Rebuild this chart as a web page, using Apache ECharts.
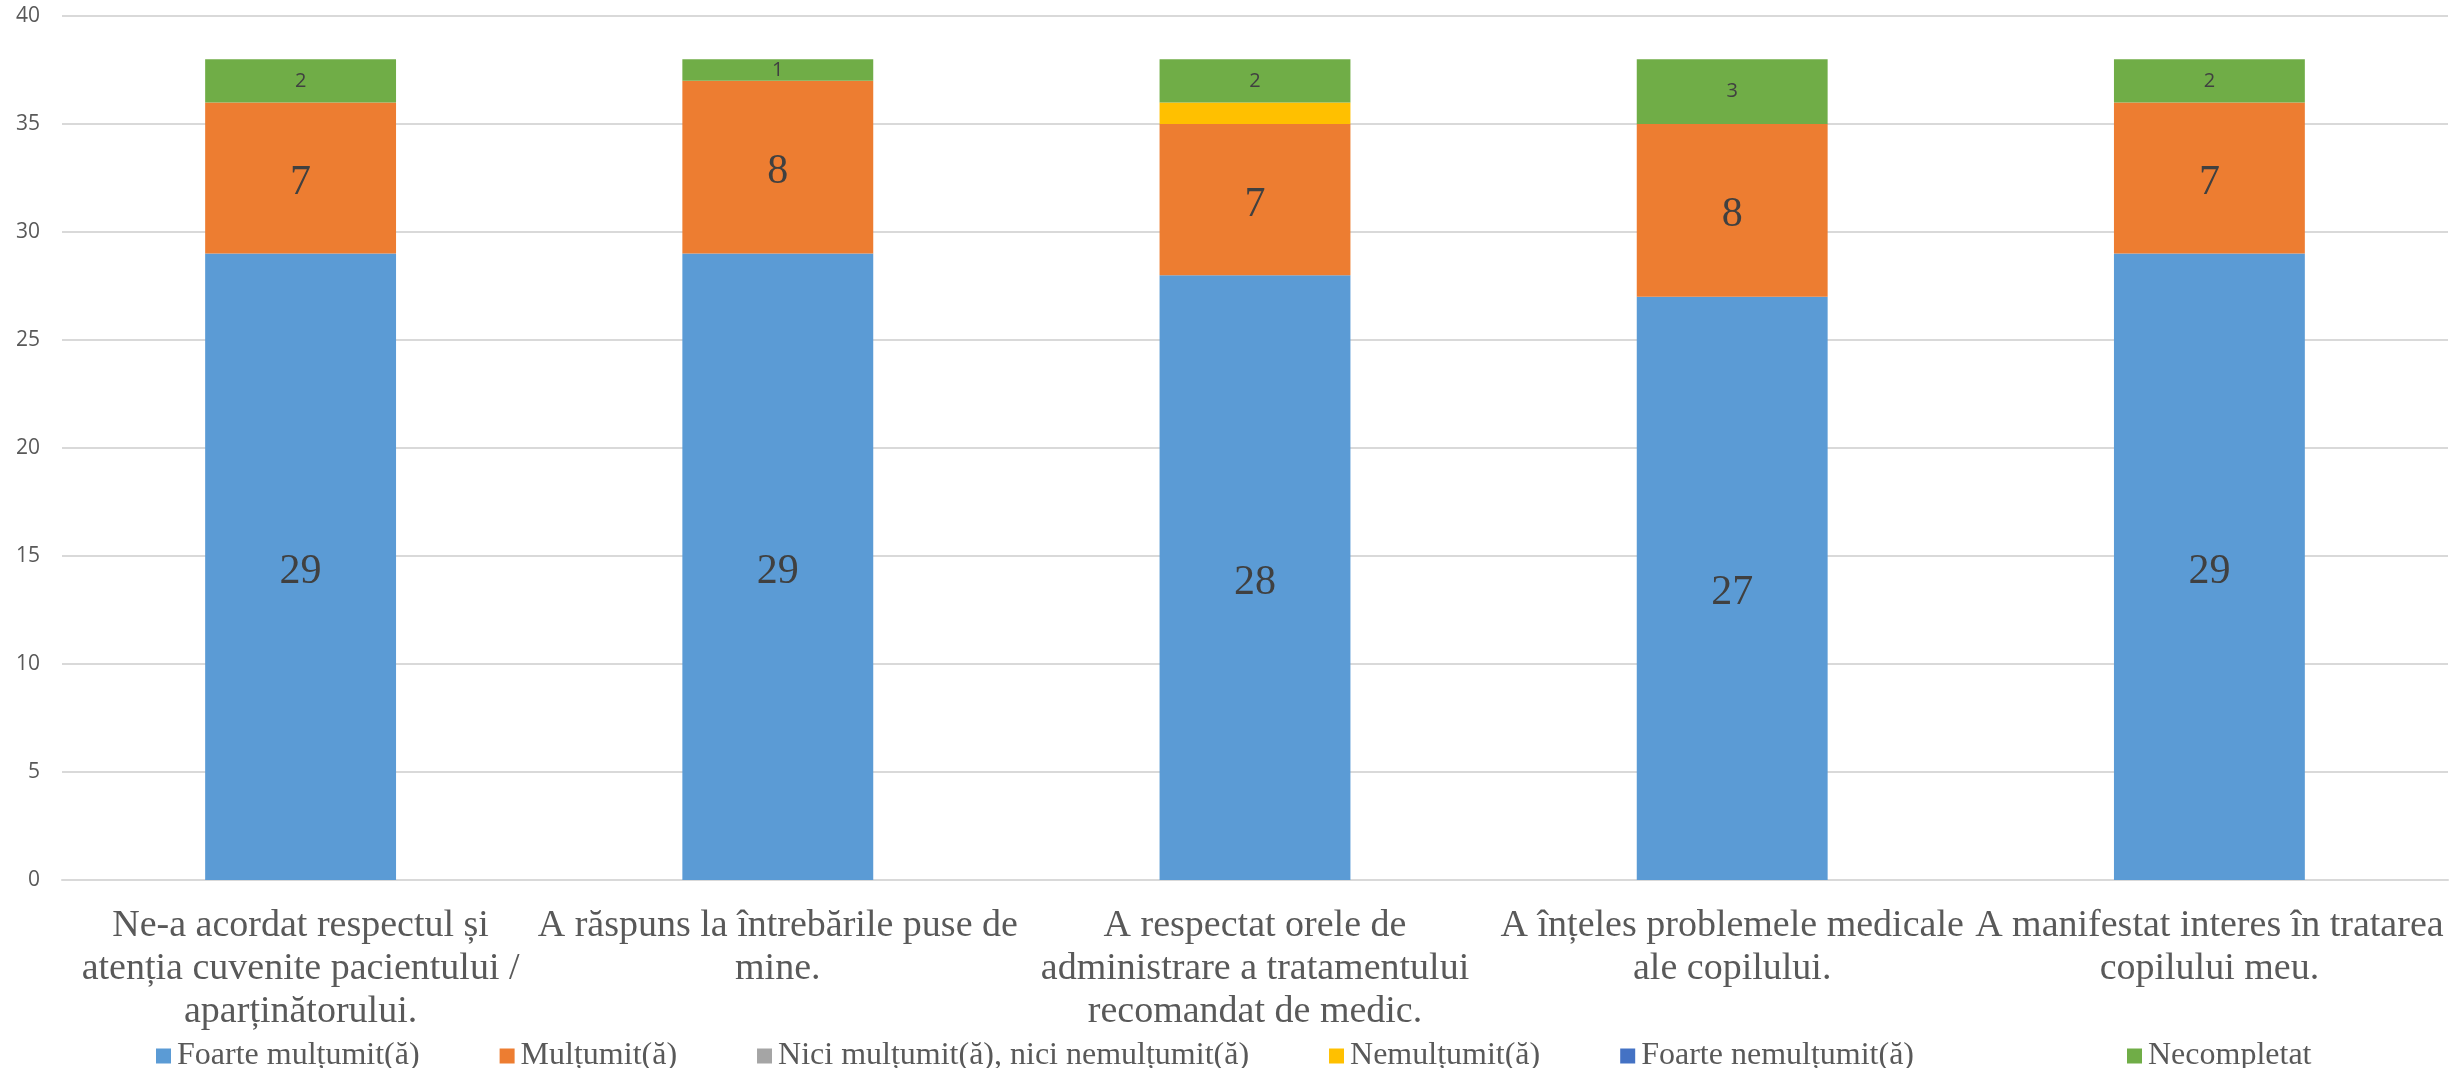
<!DOCTYPE html>
<html>
<head>
<meta charset="utf-8">
<title>Evaluare</title>
<script src="https://cdn.jsdelivr.net/npm/echarts@6/dist/echarts.min.js"></script>
<style>
  html, body { margin: 0; padding: 0; background: #ffffff; }
  #chart { width: 2461px; height: 1068px; }
</style>
</head>
<body>
<div id="chart"></div>
<script>
// Survey questions (x-axis categories, wrapped as printed)
const categories = [
  'Ne-a acordat respectul și\natenția cuvenite pacientului /\naparținătorului.',
  'A răspuns la întrebările puse de\nmine.',
  'A respectat orele de\nadministrare a tratamentului\nrecomandat de medic.',
  'A înțeles problemele medicale\nale copilului.',
  'A manifestat interes în tratarea\ncopilului meu.'
];

// Answer counts per question, one array per response option
const foarteMultumit   = [29, 29, 28, 27, 29];
const multumit         = [7, 8, 7, 8, 7];
const niciNici         = [0, 0, 0, 0, 0];
const nemultumit       = [0, 0, 1, 0, 0];
const foarteNemultumit = [0, 0, 0, 0, 0];
const necompletat      = [2, 1, 2, 3, 2];

const seriesNames = [
  'Foarte mulțumit(ă)',
  'Mulțumit(ă)',
  'Nici mulțumit(ă), nici nemulțumit(ă)',
  'Nemulțumit(ă)',
  'Foarte nemulțumit(ă)',
  'Necompletat'
];
const seriesData = [foarteMultumit, multumit, niciNici, nemultumit, foarteNemultumit, necompletat];
const seriesColors = ['#5B9BD5', '#ED7D31', '#A5A5A5', '#FFC000', '#4472C4', '#70AD47'];

// Value axis ticks
const yMin = 0, yMax = 40, yStep = 5;

const serif = '"Liberation Serif", "Times New Roman", serif';
const sans = '"Open Sans", "Noto Sans", sans-serif';

// Label style per series: large serif for the main answers, small sans for "Necompletat"
const labelStyles = [
  { show: true, fontFamily: serif, fontSize: 42, offset: [0, 5] },
  { show: true, fontFamily: serif, fontSize: 42, offset: [0, 5] },
  { show: false },
  { show: false },
  { show: false },
  { show: true, fontFamily: sans, fontSize: 20 }
];

const series = seriesNames.map((name, i) => ({
  name: name,
  type: 'bar',
  stack: 'total',
  barWidth: '40%',
  data: seriesData[i],
  itemStyle: { color: seriesColors[i] },
  label: Object.assign({
    position: 'inside',
    color: '#404040',
    formatter: p => (p.value ? String(p.value) : '')
  }, labelStyles[i]),
  emphasis: { disabled: true }
}));

const legendBase = {
  top: 1035,
  itemWidth: 15,
  itemHeight: 15,
  itemGap: 80,
  icon: 'rect',
  selectedMode: false,
  textStyle: { fontFamily: serif, fontSize: 32, color: '#595959', padding: [0, 0, 0, 1] }
};

const chart = echarts.init(document.getElementById('chart'), null, { renderer: 'canvas' });
chart.setOption({
  animation: false,
  backgroundColor: '#ffffff',
  grid: { left: 62, right: 13, top: 16, bottom: 188, containLabel: false },
  legend: [
    Object.assign({ left: 151, data: seriesNames.slice(0, 5) }, legendBase),
    Object.assign({ left: 2122, data: seriesNames.slice(5) }, legendBase)
  ],
  xAxis: {
    type: 'category',
    data: categories,
    axisTick: { show: false },
    axisLine: { show: true, lineStyle: { color: '#d9d9d9', width: 2 } },
    axisLabel: {
      interval: 0,
      margin: 25,
      fontFamily: serif,
      fontSize: 38,
      lineHeight: 43,
      color: '#595959',
      align: 'center'
    }
  },
  yAxis: {
    type: 'value',
    min: yMin,
    max: yMax,
    interval: yStep,
    axisLine: { show: false },
    axisTick: { show: false },
    splitLine: { lineStyle: { color: '#d9d9d9', width: 2 } },
    axisLabel: { margin: 22, fontFamily: sans, fontSize: 21, color: '#595959' }
  },
  series: series
});
</script>
</body>
</html>
